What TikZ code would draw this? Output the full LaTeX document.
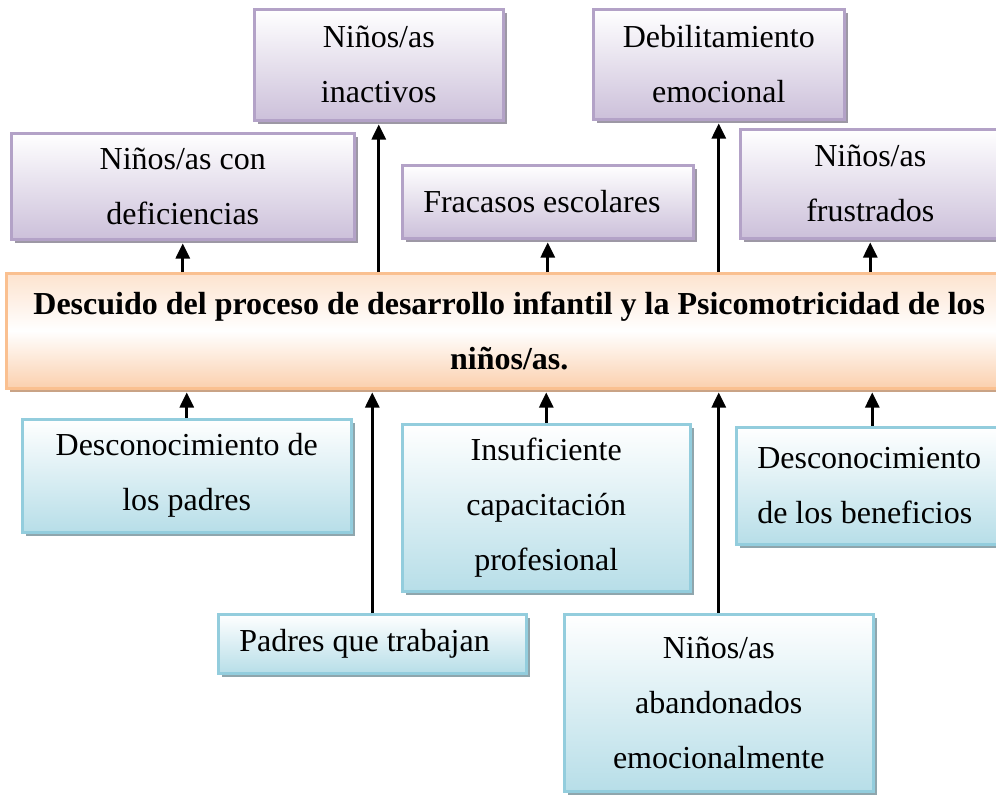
\documentclass[tikz,border=0pt]{standalone}
\usepackage{fontspec}
\setmainfont{Liberation Serif}
\usetikzlibrary{arrows.meta,shadows}

\definecolor{lila}{HTML}{B3A2C7}
\definecolor{lilafondo}{HTML}{CCC0DA}
\definecolor{lilasombra}{HTML}{9D98A5}
\definecolor{celeste}{HTML}{93CDDD}
\definecolor{celestefondo}{HTML}{B7DEE8}
\definecolor{celestesombra}{HTML}{8FA6AD}
\definecolor{naranja}{HTML}{FAC090}
\definecolor{naranjafondo}{HTML}{FBD0AE}
\definecolor{naranjasombra}{HTML}{C9A386}

\tikzset{
  caja/.style={rectangle, inner sep=0pt, anchor=north west, align=center,
    line width=2.5pt, font=\fontsize{32}{55}\selectfont},
  izq/.style={align=flush left, inner xsep=21pt, text width=#1},
  efecto/.style={caja, draw=lila, top color=white, bottom color=lilafondo,
    drop shadow={shadow xshift=4pt, shadow yshift=-4pt, fill=lilasombra, opacity=1}},
  causa/.style={caja, draw=celeste, top color=white, bottom color=celestefondo,
    drop shadow={shadow xshift=4pt, shadow yshift=-4pt, fill=celestesombra, opacity=1}},
  problema/.style={caja, draw=naranja, top color=naranjafondo!60, bottom color=naranjafondo,
    middle color=white,
    drop shadow={shadow xshift=4pt, shadow yshift=-4pt, fill=naranjasombra, opacity=1}},
  flecha/.style={-{Triangle[length=15pt,width=14pt]}, line width=2.6pt, shorten >=3pt}
}

\begin{document}
\begin{tikzpicture}[x=1pt, y=-1pt]
  \clip (0,0) rectangle (996,796);
  \path[use as bounding box] (0,0) rectangle (996,796);

  % efectos
  \node[efecto, minimum width=249pt, minimum height=111pt] (inactivos) at (253,8) {Niños/as\\inactivos};
  \node[efecto, minimum width=251pt, minimum height=110pt] (debilitamiento) at (592,8) {Debilitamiento\\emocional};
  \node[efecto, minimum width=343pt, minimum height=106pt] (deficiencias) at (10,132) {Niños/as con\\deficiencias};
  \node[efecto, izq=249pt, minimum width=291pt, minimum height=73pt] (fracasos) at (401,164) {Fracasos escolares};
  \node[efecto, minimum width=260pt, minimum height=109pt] (frustrados) at (739,128) {Niños/as\\frustrados};

  % problema central
  \node[problema, minimum width=1006pt, minimum height=115pt] (problema) at (5,272)
    {\textbf{Descuido del proceso de desarrollo infantil y la Psicomotricidad de los}\\\textbf{niños/as.}};

  % causas
  \node[causa, minimum width=329pt, minimum height=113pt] (padres) at (21,418) {Desconocimiento de\\los padres};
  \node[causa, minimum width=288pt, minimum height=167pt] (capacitacion) at (401,423) {Insuficiente\\capacitación\\profesional};
  \node[causa, izq=230pt, minimum width=272pt, minimum height=117pt] (beneficios) at (735,426) {Desconocimiento\\de los beneficios};
  \node[causa, izq=266pt, minimum width=308pt, minimum height=59pt] (trabajan) at (217,613) {Padres que trabajan};
  \node[causa, minimum width=309pt, minimum height=177pt] (abandonados) at (563,613) {Niños/as\\abandonados\\emocionalmente};

  % flechas
  \foreach \e in {deficiencias,inactivos,fracasos,debilitamiento,frustrados}
    \draw[flecha] (\e.south |- problema.north) -- (\e.south);
  \foreach \c in {padres,trabajan,capacitacion,abandonados,beneficios}
    \draw[flecha] (\c.north) -- (\c.north |- problema.south);
\end{tikzpicture}
\end{document}
